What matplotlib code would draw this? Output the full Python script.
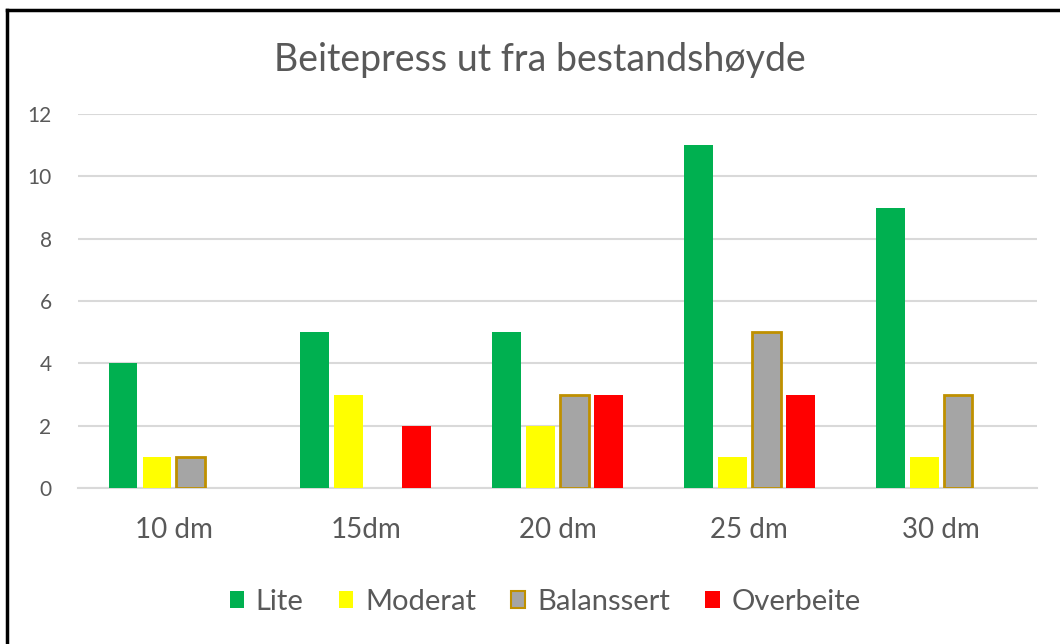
import numpy as np
import matplotlib
matplotlib.use("Agg")
import matplotlib.pyplot as plt
from matplotlib.lines import Line2D
from matplotlib.patches import Patch

plt.rcParams['font.family'] = ['Lato', 'DejaVu Sans']

# Data
categories = ["10 dm", "15dm", "20 dm", "25 dm", "30 dm"]
series_names = ["Lite", "Moderat", "Balanssert", "Overbeite"]
lite = [4, 5, 5, 11, 9]
moderat = [1, 3, 2, 1, 1]
balanssert = [1, 0, 3, 5, 3]
overbeite = [0, 2, 3, 3, 0]

colors = ["#00B050", "#FFFF00", "#A5A5A5", "#FF0000"]
edges = ["#00B050", "#FFFF00", "#BF9000", "#FF0000"]
text_col = "#595959"

W, H = 1060, 644
fig = plt.figure(figsize=(W / 100, H / 100), dpi=100)
ax = fig.add_axes([78 / W, 1 - 488 / H, (1037 - 78) / W, (488 - 114) / H])

x = np.arange(len(categories))
bw = 0.15
step = 0.177
all_vals = [lite, moderat, balanssert, overbeite]
for i, (vals, name) in enumerate(zip(all_vals, series_names)):
    v = np.array(vals, dtype=float)
    v = np.where(v > 0, v, np.nan)
    lw = 2 if name == "Balanssert" else 0
    ax.bar(x + (i - 1.5) * step, v, width=bw, color=colors[i],
           edgecolor=edges[i], linewidth=lw, label=name, zorder=3)

ax.set_xlim(-0.5, len(categories) - 0.5)
ax.set_ylim(0, 12)
ax.set_yticks(range(0, 13, 2))
ax.set_xticks(x)
ax.set_xticklabels(categories, fontsize=20, color=text_col)
ax.tick_params(axis='y', labelsize=15, labelcolor=text_col, length=0, pad=19)
ax.tick_params(axis='x', length=0, pad=21)
ax.grid(axis='y', color="#D9D9D9", linewidth=1.5, zorder=0)
for s in ["top", "right", "left"]:
    ax.spines[s].set_visible(False)
ax.spines["bottom"].set_color("#D9D9D9")
ax.spines["bottom"].set_linewidth(1.5)

fig.text(540 / W, 1 - 60 / H, "Beitepress ut fra bestandshøyde",
         ha="center", va="center", fontsize=27, color=text_col)

handles = []
for i, name in enumerate(series_names):
    lw = 1.5 if name == "Balanssert" else 0
    handles.append(Patch(facecolor=colors[i], edgecolor=edges[i], linewidth=lw, label=name))
fig.legend(handles=handles, loc="center", bbox_to_anchor=(545 / W, 1 - 602 / H),
           ncol=4, frameon=False, fontsize=21, handlelength=0.5, handleheight=0.5,
           handletextpad=0.4, columnspacing=1.2, labelcolor=text_col)

# chart border (top and left)
fig.add_artist(Line2D([7 / W, 1], [1 - 10 / H, 1 - 10 / H], color="black", linewidth=2.5))
fig.add_artist(Line2D([7 / W, 7 / W], [0, 1 - 10 / H], color="black", linewidth=2.5))

fig.savefig("out.png", dpi=100)
